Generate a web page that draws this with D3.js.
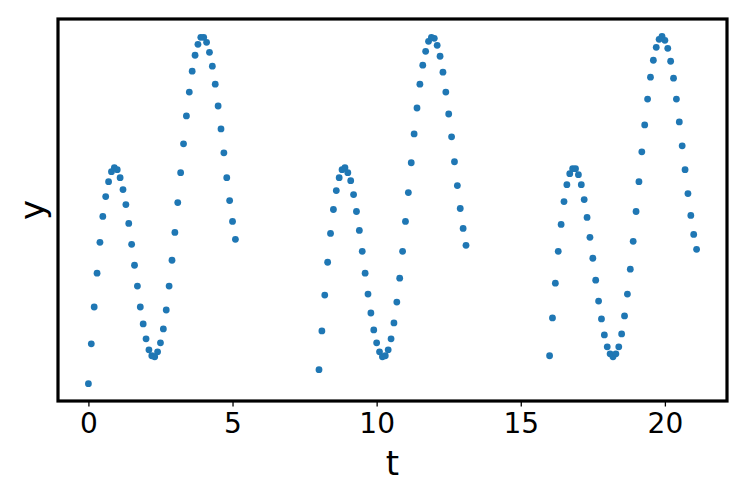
<!DOCTYPE html>
<html>
<head>
<meta charset="utf-8">
<script src="https://cdn.jsdelivr.net/npm/d3@7"></script>
<style>
  body { margin: 0; background: #ffffff; }
  text { font-family: 'DejaVu Sans', sans-serif; fill: #000000; }
</style>
</head>
<body>
<div id="chart"></div>
<script>
// Sampled signal, three windows of the same time grid
const segmentStarts = [0, 8, 16];
const tOffsets = [
  0.0, 0.1, 0.2, 0.3, 0.4, 0.5, 0.6, 0.7, 0.8, 0.9,
  1.0, 1.1, 1.2, 1.3, 1.4, 1.5, 1.6, 1.7, 1.8, 1.9,
  2.0, 2.1, 2.2, 2.3, 2.4, 2.5, 2.6, 2.7, 2.8, 2.9,
  3.0, 3.1, 3.2, 3.3, 3.4, 3.5, 3.6, 3.7, 3.8, 3.9,
  4.0, 4.1, 4.2, 4.3, 4.4, 4.5, 4.6, 4.7, 4.8, 4.9,
  5.0, 5.1
];
const ySegment1 = [
  -1.75, -1.35, -0.98, -0.64, -0.33, -0.07, 0.13, 0.28, 0.38, 0.42,
  0.40, 0.32, 0.20, 0.05, -0.14, -0.35, -0.56, -0.77, -0.98, -1.15,
  -1.30, -1.41, -1.47, -1.48, -1.43, -1.34, -1.20, -1.01, -0.77, -0.51,
  -0.23, 0.07, 0.37, 0.66, 0.94, 1.18, 1.39, 1.55, 1.66, 1.73,
  1.73, 1.68, 1.58, 1.44, 1.26, 1.04, 0.81, 0.57, 0.32, 0.09,
  -0.12, -0.30
];
const ySegment2 = [
  -1.61, -1.22, -0.86, -0.53, -0.24, 0.00, 0.19, 0.32, 0.40, 0.42,
  0.37, 0.29, 0.15, -0.02, -0.21, -0.42, -0.64, -0.85, -1.04, -1.21,
  -1.34, -1.43, -1.48, -1.47, -1.41, -1.30, -1.14, -0.93, -0.69, -0.42,
  -0.12, 0.17, 0.47, 0.76, 1.02, 1.26, 1.45, 1.59, 1.69, 1.73,
  1.72, 1.65, 1.54, 1.38, 1.18, 0.96, 0.73, 0.48, 0.24, 0.01,
  -0.19, -0.36
];
const ySegment3 = [
  -1.47, -1.09, -0.74, -0.42, -0.15, 0.08, 0.25, 0.36, 0.41, 0.41,
  0.35, 0.25, 0.10, -0.08, -0.28, -0.49, -0.71, -0.92, -1.10, -1.26,
  -1.38, -1.45, -1.48, -1.45, -1.38, -1.25, -1.07, -0.85, -0.60, -0.32,
  -0.02, 0.28, 0.58, 0.85, 1.11, 1.33, 1.50, 1.63, 1.71, 1.74,
  1.70, 1.62, 1.49, 1.32, 1.11, 0.88, 0.64, 0.40, 0.16, -0.06,
  -0.25, -0.40
];
const xTicks = [0, 5, 10, 15, 20];

// Flatten into points
const segments = [ySegment1, ySegment2, ySegment3];
const points = [];
segments.forEach((ys, s) => {
  ys.forEach((y, i) => points.push({ t: segmentStarts[s] + tOffsets[i], y: y }));
});

const width = 747;
const height = 498;
const plot = { left: 58, right: 727, top: 19, bottom: 401 };

const svg = d3.select('#chart')
  .append('svg')
  .attr('width', width)
  .attr('height', height);

// matplotlib style 5% margins around the data
const pad = (ext) => {
  const m = (ext[1] - ext[0]) * 0.05;
  return [ext[0] - m, ext[1] + m];
};

const x = d3.scaleLinear()
  .domain(pad(d3.extent(points, (d) => d.t)))
  .range([plot.left, plot.right]);

const y = d3.scaleLinear()
  .domain(pad(d3.extent(points, (d) => d.y)))
  .range([plot.bottom, plot.top]);

// Points
svg.append('g')
  .selectAll('circle')
  .data(points)
  .enter()
  .append('circle')
  .attr('cx', (d) => x(d.t))
  .attr('cy', (d) => y(d.y))
  .attr('r', 3.4)
  .style('fill', '#1f77b4');

// Bottom axis
const xAxis = svg.append('g')
  .attr('transform', 'translate(0,' + plot.bottom + ')')
  .call(d3.axisBottom(x).tickValues(xTicks).tickFormat(d3.format('d'))
    .tickSize(5.5).tickPadding(6.5));
xAxis.select('.domain').remove();
xAxis.selectAll('line').attr('stroke', '#000').attr('stroke-width', 1.3);
xAxis.selectAll('text')
  .style('font-size', '28px')
  .style('font-family', 'DejaVu Sans, sans-serif')
  .attr('fill', '#000');

// Frame
svg.append('rect')
  .attr('x', plot.left)
  .attr('y', plot.top)
  .attr('width', plot.right - plot.left)
  .attr('height', plot.bottom - plot.top)
  .attr('fill', 'none')
  .attr('stroke', '#000')
  .attr('stroke-width', 3.2);

// Axis labels
svg.append('text')
  .attr('x', (plot.left + plot.right) / 2)
  .attr('y', 475)
  .attr('text-anchor', 'middle')
  .style('font-size', '34px')
  .text('t');

svg.append('text')
  .attr('transform', 'translate(43.5,' + (plot.top + plot.bottom) / 2 + ') rotate(-90)')
  .attr('text-anchor', 'middle')
  .style('font-size', '34px')
  .text('y');
</script>
</body>
</html>
